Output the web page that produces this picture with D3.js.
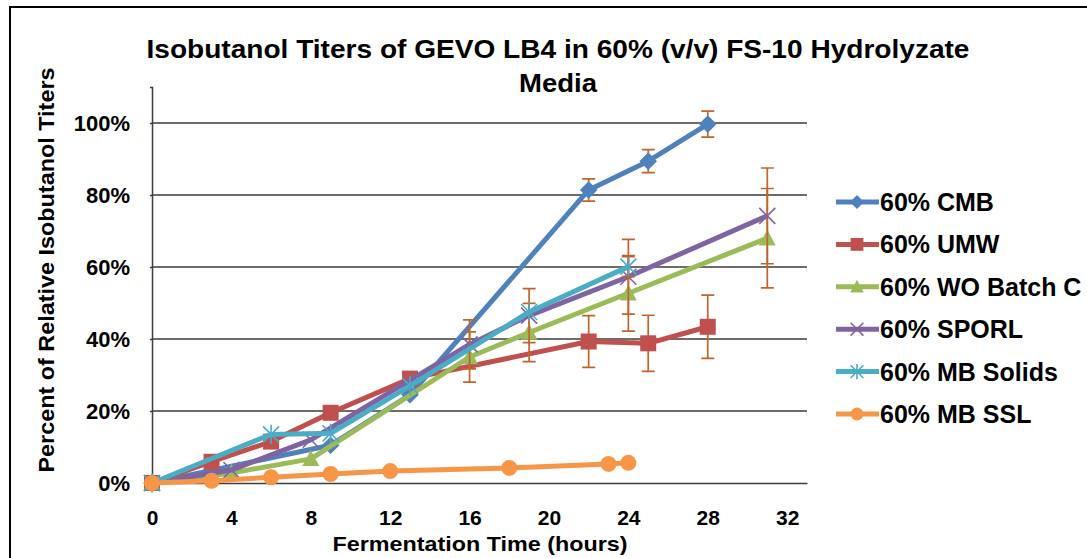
<!DOCTYPE html>
<html>
<head>
<meta charset="utf-8">
<script src="https://cdn.jsdelivr.net/npm/d3@7"></script>
<style>
  html, body { margin: 0; padding: 0; background: #fff; }
  svg text { font-family: "Liberation Sans", Arial, Helvetica, sans-serif; font-weight: bold; fill: #000; }
</style>
</head>
<body>
<svg id="chart" width="1087" height="558"></svg>
<script>
// ---------- DATA ----------
const seriesNames = ["60% CMB", "60% UMW", "60% WO Batch C", "60% SPORL", "60% MB Solids", "60% MB SSL"];
const seriesColors = ["#4F81BD", "#C0504D", "#9BBB59", "#8064A2", "#4BACC6", "#F79646"];
const seriesMarkers = ["diamond", "square", "triangle", "x", "star", "circle"];

const cmbTime = [0, 9, 13, 22, 25, 28];
const cmbValue = [0, 10.5, 24.5, 81.4, 89.4, 99.7];
const cmbError = [0, 0, 0, 3.1, 3.2, 3.6];

const umwTime = [0, 3, 6, 9, 13, 22, 25, 28];
const umwValue = [0, 5.9, 11.5, 19.5, 29, 39.3, 38.8, 43.4];
const umwError = [0, 0, 0, 0, 0, 7.2, 7.8, 8.8];

const woTime = [0, 4, 8, 16, 19, 24, 31];
const woValue = [0, 2.8, 6.7, 35, 41.8, 52.7, 68];
const woError = [0, 0, 0, 7, 8.1, 10.5, 13.8];

const sporlTime = [0, 4, 8, 16, 19, 24, 31];
const sporlValue = [0, 3.6, 12, 38.5, 46.5, 57.3, 74.2];
const sporlError = [0, 0, 0, 6.8, 7.5, 10.4, 13.3];

const solidsTime = [0, 6, 9, 13, 19, 24];
const solidsValue = [0, 13.5, 13.8, 27, 47.5, 60.1];
const solidsError = [0, 0, 0, 0, 0, 2.8];

const sslTime = [0, 3, 6, 9, 12, 18, 23, 24];
const sslValue = [0, 0.6, 1.6, 2.5, 3.3, 4.2, 5.3, 5.6];
const sslError = [0, 0, 0, 0, 0, 0, 0, 0];

const xTicks = [0, 4, 8, 12, 16, 20, 24, 28, 32];
const yTicks = [0, 20, 40, 60, 80, 100];

const titleLines = ["Isobutanol Titers of GEVO LB4 in 60% (v/v) FS-10 Hydrolyzate", "Media"];
const xTitle = "Fermentation Time (hours)";
const yTitle = "Percent of Relative Isobutanol Titers";

// ---------- BUILD ----------
const times = [cmbTime, umwTime, woTime, sporlTime, solidsTime, sslTime];
const values = [cmbValue, umwValue, woValue, sporlValue, solidsValue, sslValue];
const errors = [cmbError, umwError, woError, sporlError, solidsError, sslError];
const series = seriesNames.map((name, i) => ({
  name, color: seriesColors[i], marker: seriesMarkers[i],
  points: times[i].map((t, j) => ({ t, v: values[i][j], e: errors[i][j] }))
}));

const svg = d3.select("#chart");
const errColor = "#C0652C";

// frame
svg.append("rect").attr("x", 10).attr("y", 7).attr("width", 1100).attr("height", 600)
  .attr("fill", "none").attr("stroke", "#000").attr("stroke-width", 2);

const x = d3.scaleLinear().domain([0, 33]).range([152, 807]);
const y = d3.scaleLinear().domain([0, 110]).range([483, 87]);

// gridlines
svg.append("g").selectAll("line").data(yTicks.filter(d => d > 0)).join("line")
  .attr("x1", x(0)).attr("x2", x(33)).attr("y1", d => y(d)).attr("y2", d => y(d))
  .attr("stroke", "#3c3c3c").attr("stroke-width", 1.5);

// y axis
const yAxis = d3.axisLeft(y).tickValues(yTicks).tickFormat(d => d + "%").tickSize(2).tickPadding(20);
const gy = svg.append("g").attr("transform", `translate(${x(0)},0)`).call(yAxis);
gy.select(".domain").attr("stroke", "#3c3c3c").attr("stroke-width", 1.5);
gy.selectAll(".tick line").attr("stroke", "#3c3c3c").attr("stroke-width", 1.5);
gy.selectAll(".tick text").attr("font-size", 22).attr("font-family", null).attr("dy", "0.36em");

// x axis
const xAxis = d3.axisBottom(x).tickValues(xTicks).tickSize(0).tickPadding(27);
const gx = svg.append("g").attr("transform", `translate(0,${y(0)})`).call(xAxis);
gx.select(".domain").attr("stroke", "#3c3c3c").attr("stroke-width", 1.5);
gx.selectAll(".tick text").attr("font-size", 21).attr("font-family", null);

// titles
svg.append("text").attr("x", 558).attr("y", 58).attr("text-anchor", "middle")
  .attr("font-size", 25).attr("textLength", 823).attr("lengthAdjust", "spacingAndGlyphs").text(titleLines[0]);
svg.append("text").attr("x", 558).attr("y", 92).attr("text-anchor", "middle")
  .attr("font-size", 25).attr("textLength", 78).attr("lengthAdjust", "spacingAndGlyphs").text(titleLines[1]);
svg.append("text").attr("x", 480).attr("y", 551).attr("text-anchor", "middle")
  .attr("font-size", 21).attr("textLength", 295).attr("lengthAdjust", "spacingAndGlyphs").text(xTitle);
svg.append("text").attr("transform", "translate(54,270) rotate(-90)").attr("text-anchor", "middle")
  .attr("font-size", 22).attr("textLength", 405).attr("lengthAdjust", "spacingAndGlyphs").text(yTitle);

// marker drawing
function drawMarker(g, type, color, cx, cy, scale = 1) {
  const s = 8 * scale;
  if (type === "diamond") {
    g.append("path").attr("d", `M${cx},${cy - s * 1.1}L${cx + s * 1.1},${cy}L${cx},${cy + s * 1.1}L${cx - s * 1.1},${cy}Z`).attr("fill", color);
  } else if (type === "square") {
    g.append("rect").attr("x", cx - s).attr("y", cy - s).attr("width", 2 * s).attr("height", 2 * s).attr("fill", color);
  } else if (type === "triangle") {
    g.append("path").attr("d", `M${cx},${cy - s * 1.1}L${cx + s * 1.05},${cy + s * 0.9}L${cx - s * 1.05},${cy + s * 0.9}Z`).attr("fill", color);
  } else if (type === "x") {
    g.append("path").attr("d", `M${cx - s},${cy - s}L${cx + s},${cy + s}M${cx - s},${cy + s}L${cx + s},${cy - s}`)
      .attr("stroke", color).attr("stroke-width", 1.6).attr("fill", "none");
  } else if (type === "star") {
    g.append("path").attr("d", `M${cx - s},${cy - s}L${cx + s},${cy + s}M${cx - s},${cy + s}L${cx + s},${cy - s}M${cx},${cy - s * 1.2}L${cx},${cy + s * 1.2}`)
      .attr("stroke", color).attr("stroke-width", 1.6).attr("fill", "none");
  } else if (type === "circle") {
    g.append("circle").attr("cx", cx).attr("cy", cy).attr("r", s).attr("fill", color);
  }
}

const line = d3.line().x(d => x(d.t)).y(d => y(d.v));

series.forEach(s => {
  const g = svg.append("g");
  g.append("path").attr("d", line(s.points)).attr("fill", "none")
    .attr("stroke", s.color).attr("stroke-width", 5).attr("stroke-linejoin", "round");
  s.points.filter(p => p.e > 0).forEach(p => {
    const px = x(p.t);
    g.append("path").attr("d",
      `M${px},${y(p.v + p.e)}L${px},${y(p.v - p.e)}M${px - 6.5},${y(p.v + p.e)}L${px + 6.5},${y(p.v + p.e)}M${px - 6.5},${y(p.v - p.e)}L${px + 6.5},${y(p.v - p.e)}`)
      .attr("stroke", errColor).attr("stroke-width", 1.7).attr("fill", "none");
  });
  s.points.forEach(p => drawMarker(g, s.marker, s.color, x(p.t), y(p.v)));
});

// legend
const legendY0 = 202, legendStep = 42.4;
series.forEach((s, i) => {
  const ly = legendY0 + i * legendStep;
  const g = svg.append("g");
  g.append("line").attr("x1", 836).attr("x2", 879).attr("y1", ly).attr("y2", ly)
    .attr("stroke", s.color).attr("stroke-width", 5);
  drawMarker(g, s.marker, s.color, 857, ly, 0.8);
  g.append("text").attr("x", 880).attr("y", ly + 9).attr("font-size", 25).text(s.name);
});
</script>
</body>
</html>
